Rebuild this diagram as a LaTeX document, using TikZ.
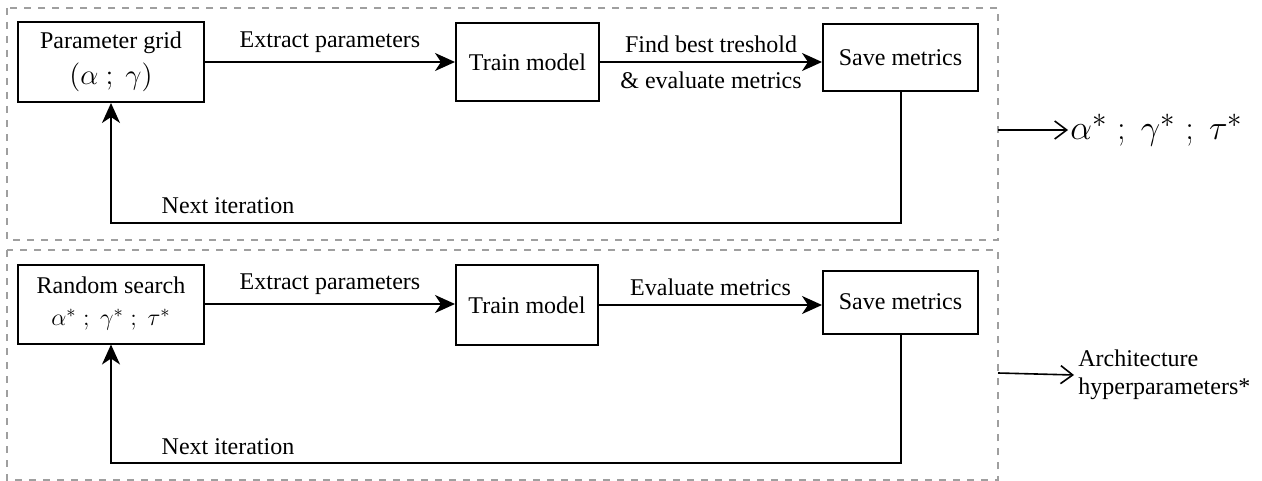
\documentclass[tikz,border=0pt]{standalone}
\usepackage{fontspec}
\setmainfont{Liberation Serif}
\usetikzlibrary{arrows.meta,positioning}

\begin{document}
\begin{tikzpicture}[x=0.5pt,y=-0.5pt,
  every node/.style={font=\fontsize{12}{14}\selectfont},
  block/.style={draw,line width=1pt,inner sep=0pt,align=center},
  flow/.style={line width=1pt,-{Stealth[length=10pt,width=9pt,inset=3pt]}},
  outflow/.style={line width=0.8pt,-{Straight Barb[length=6pt,width=9pt]}},
  frame/.style={draw=gray!75,line width=0.8pt,dash pattern=on 3.5pt off 3.5pt}]

\useasboundingbox (0,0) rectangle (1262,481);

% grid search stage
\draw[frame] (7,8) rectangle (998,240);
\node[block,minimum width=93pt,minimum height=40pt] (grid) at (111,62)
  {Parameter grid\\[4pt] {\Large$(\alpha\ ;\ \gamma)$}};
\node[block,minimum width=71.5pt,minimum height=39pt] (train1) at (527.5,62) {Train model};
\node[block,minimum width=77.5pt,minimum height=33.5pt] (save1) at (900.5,57.5) {Save metrics};

\draw[flow] (grid.east) -- node[above=1pt] {Extract parameters} (grid.east -| train1.west);
\draw[flow] (train1.east) -- node[above=1pt] {Find best treshold}
  node[below=1pt] {\& evaluate metrics} (train1.east -| save1.west);

\coordinate (loop1) at (500,223);
\draw[flow] (save1.south) |- (loop1) -| (grid.south);
\node at (228,206) {Next iteration};

\coordinate (out1) at (998,130);
\node[anchor=west,inner sep=1pt] (best) at (1068,130) {\fontsize{19}{22}\selectfont$\alpha^* \ ;\ \gamma^* \ ;\ \tau^*$};
\draw[outflow] (out1) -- (best.west);

% random search stage
\draw[frame] (7,250) rectangle (998,480);
\node[block,minimum width=93pt,minimum height=39.5pt] (search) at (111,304)
  {Random search\\[2pt] {\fontsize{13}{15}\selectfont$\alpha^* \ ;\ \gamma^* \ ;\ \tau^*$}};
\node[block,minimum width=71pt,minimum height=40pt] (train2) at (527,305) {Train model};
\node[block,minimum width=77.5pt,minimum height=31.5pt] (save2) at (900.5,302) {Save metrics};

\draw[flow] (search.east) -- node[above=1pt] {Extract parameters} (search.east -| train2.west);
\draw[flow] (train2.east) -- node[above=1pt] {Evaluate metrics} (train2.east -| save2.west);

\coordinate (loop2) at (500,463);
\draw[flow] (save2.south) |- (loop2) -| (search.south);
\node at (228,447) {Next iteration};

\coordinate (out2) at (998,373);
\node[anchor=west,align=left,inner sep=2pt] (arch) at (1074,375) {Architecture\\hyperparameters*};
\draw[outflow] (out2) -- (arch.west);
\end{tikzpicture}
\end{document}
